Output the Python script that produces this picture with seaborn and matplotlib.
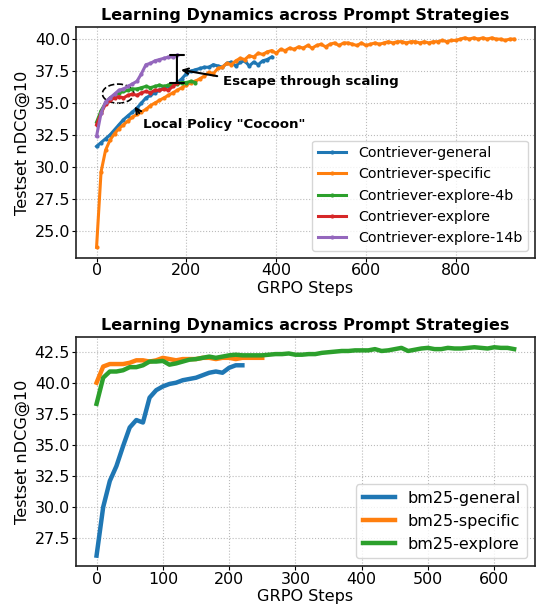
import numpy as np
import pandas as pd
import matplotlib
matplotlib.use("Agg")
import matplotlib.pyplot as plt
import seaborn as sns
from matplotlib.patches import Ellipse
from matplotlib.ticker import MultipleLocator, FormatStrFormatter

# ---------------- data (top: Contriever) ----------------
general_steps = list(range(0, 400, 10))
general_vals = [31.6, 31.9, 32.2, 32.5, 32.9, 33.3, 33.7, 34.0, 34.3, 34.6,
                35.0, 35.4, 35.6, 35.8, 36.0, 36.2, 36.3, 36.4, 36.6, 36.9,
                37.3, 37.5, 37.6, 37.7, 37.8, 37.8, 38.0, 37.9, 37.8, 38.1,
                38.2, 37.9, 38.2, 38.3, 37.9, 38.2, 38.0, 38.3, 38.4, 38.6]

specific_steps = list(range(0, 940, 10))
specific_vals = [23.7, 29.6, 31.3, 32.1, 32.6, 33.0, 33.3, 33.6, 33.9, 34.1,
                 34.3, 34.5, 34.8, 35.0, 35.2, 35.4, 35.6, 35.8, 36.0, 36.2,
                 36.4, 36.6, 36.7, 36.9, 37.1, 37.4, 37.3, 37.7, 37.8, 38.1,
                 38.0, 38.3, 38.5, 38.4, 38.7, 38.6, 38.9, 38.8, 39.0, 39.1,
                 38.9, 39.2, 39.1, 39.3, 39.2, 39.4, 39.3, 39.5, 39.3, 39.5,
                 39.6, 39.4, 39.6, 39.7, 39.5, 39.7, 39.7, 39.6, 39.5, 39.7,
                 39.5, 39.6, 39.7, 39.6, 39.7, 39.8, 39.7, 39.8, 39.8, 39.7,
                 39.8, 39.8, 39.7, 39.8, 39.7, 39.8, 39.8, 39.9, 39.8, 39.9,
                 39.9, 40.0, 40.1, 40.0, 40.1, 40.0, 40.1, 40.0, 40.1, 40.0,
                 40.0, 39.9, 40.0, 40.0]

explore4b_steps = list(range(0, 230, 10))
explore4b_vals = [33.5, 34.4, 35.0, 35.4, 35.6, 35.8, 35.9, 36.0, 36.1, 36.1,
                  36.2, 36.3, 36.2, 36.3, 36.4, 36.3, 36.4, 36.5, 36.5, 36.6,
                  36.6, 36.7, 36.6]

explore_steps = list(range(0, 190, 10))
explore_vals = [33.3, 34.2, 34.9, 35.2, 35.4, 35.5, 35.4, 35.6, 35.7, 35.6,
                35.8, 35.9, 35.8, 36.0, 36.0, 36.1, 36.0, 36.3, 36.6]

explore14b_steps = list(range(0, 190, 10))
explore14b_vals = [32.4, 34.2, 35.1, 35.4, 35.7, 36.0, 36.1, 36.3, 36.5, 36.7,
                   37.3, 38.0, 38.1, 38.3, 38.4, 38.5, 38.6, 38.6, 38.75]

top_names = ["Contriever-general", "Contriever-specific", "Contriever-explore-4b",
             "Contriever-explore", "Contriever-explore-14b"]

# ---------------- data (bottom: BM25) ----------------
bm_general_steps = list(range(0, 230, 10))
bm_general_vals = [26.1, 30.0, 32.1, 33.3, 34.9, 36.4, 37.0, 36.8, 38.8, 39.4,
                   39.7, 39.9, 40.0, 40.2, 40.3, 40.4, 40.6, 40.8, 40.9, 40.8,
                   41.2, 41.4, 41.4]

bm_specific_steps = list(range(0, 260, 10))
bm_specific_vals = [40.0, 41.3, 41.5, 41.5, 41.5, 41.6, 41.8, 41.8, 41.7, 41.8,
                    42.0, 41.9, 41.8, 41.9, 41.9, 41.9, 42.0, 42.0, 41.9, 42.0,
                    42.0, 41.9, 42.0, 42.0, 42.0, 42.0]

bm_explore_steps = list(range(0, 640, 10))
bm_explore_vals = [38.3, 40.4, 40.9, 40.9, 41.0, 41.25, 41.25, 41.4, 41.7, 41.7,
                   41.75, 41.45, 41.55, 41.7, 41.85, 41.9, 42.0, 42.1, 42.0, 42.1,
                   42.2, 42.25, 42.2, 42.2, 42.2, 42.2, 42.25, 42.3, 42.3, 42.35,
                   42.25, 42.25, 42.3, 42.3, 42.4, 42.45, 42.5, 42.55, 42.55, 42.6,
                   42.6, 42.6, 42.7, 42.55, 42.6, 42.7, 42.8, 42.55, 42.65, 42.75,
                   42.8, 42.7, 42.7, 42.8, 42.75, 42.75, 42.8, 42.85, 42.8, 42.75,
                   42.85, 42.8, 42.8, 42.7]

bottom_names = ["bm25-general", "bm25-specific", "bm25-explore"]

title = "Learning Dynamics across Prompt Strategies"
xlabel = "GRPO Steps"
ylabel = "Testset nDCG@10"

# ---------------- build frames ----------------
def frame(pairs, names):
    rows = []
    for (s, v), n in zip(pairs, names):
        rows.append(pd.DataFrame({"step": s, "score": v, "series": n}))
    return pd.concat(rows, ignore_index=True)

top_df = frame([(general_steps, general_vals), (specific_steps, specific_vals),
                (explore4b_steps, explore4b_vals), (explore_steps, explore_vals),
                (explore14b_steps, explore14b_vals)], top_names)
bot_df = frame([(bm_general_steps, bm_general_vals), (bm_specific_steps, bm_specific_vals),
                (bm_explore_steps, bm_explore_vals)], bottom_names)

plt.rcParams["font.family"] = ["DejaVu Sans"]
plt.rcParams["axes.edgecolor"] = "#222222"
plt.rcParams["axes.linewidth"] = 1.2
palette = sns.color_palette("tab10")

fig = plt.figure(figsize=(5.39, 6.08), dpi=100)
ax1 = fig.add_axes([0.1404, 0.576, 0.8522, 0.379])
ax2 = fig.add_axes([0.1404, 0.069, 0.8522, 0.377])

FS_TICK = 11.4
FS_LAB = 11.6
FS_TITLE = 11.5


def style(ax):
    ax.set_title(title, fontsize=FS_TITLE, fontweight="bold", pad=5)
    ax.set_xlabel(xlabel, fontsize=FS_LAB, labelpad=2)
    ax.set_ylabel(ylabel, fontsize=FS_LAB, labelpad=3)
    ax.tick_params(labelsize=FS_TICK, length=3, pad=1)
    ax.yaxis.set_major_locator(MultipleLocator(2.5))
    ax.yaxis.set_major_formatter(FormatStrFormatter("%.1f"))
    ax.grid(True, linestyle=":", color="#bbbbbb", linewidth=0.8)


# top
sns.lineplot(data=top_df, x="step", y="score", hue="series", hue_order=top_names,
             palette=palette[:5], marker="o", markersize=3, markeredgewidth=0,
             linewidth=2.2, ax=ax1, sort=False)
style(ax1)
ax1.legend(loc="lower right", fontsize=10.3, framealpha=0.8)

# annotations
ax1.annotate("", xy=(179, 38.75), xytext=(179, 36.6),
             arrowprops=dict(arrowstyle="|-|", lw=1.5, color="black", mutation_scale=5,
                             shrinkA=0, shrinkB=0))
ax1.annotate("Escape through scaling", xy=(182, 37.63), xytext=(281, 36.67),
             fontsize=9.6, fontweight="bold", ha="left", va="center",
             arrowprops=dict(arrowstyle="->", lw=1.5, color="black", relpos=(0, 0.85)))
ax1.add_patch(Ellipse((48, 35.73), 70, 1.5, fill=False, linestyle="--",
                      linewidth=1.2, edgecolor="black"))
ax1.annotate('Local Policy "Cocoon"', xy=(81, 34.9), xytext=(103, 33.3),
             fontsize=9.6, fontweight="bold", ha="left", va="center",
             arrowprops=dict(arrowstyle="->", lw=1.5, color="black", relpos=(0, 1)))

# bottom
sns.lineplot(data=bot_df, x="step", y="score", hue="series", hue_order=bottom_names,
             palette=palette[:3], linewidth=3.2, ax=ax2, sort=False)
style(ax2)
ax2.legend(loc="lower right", fontsize=11.5, framealpha=0.8)

fig.savefig("out.png", dpi=100)
